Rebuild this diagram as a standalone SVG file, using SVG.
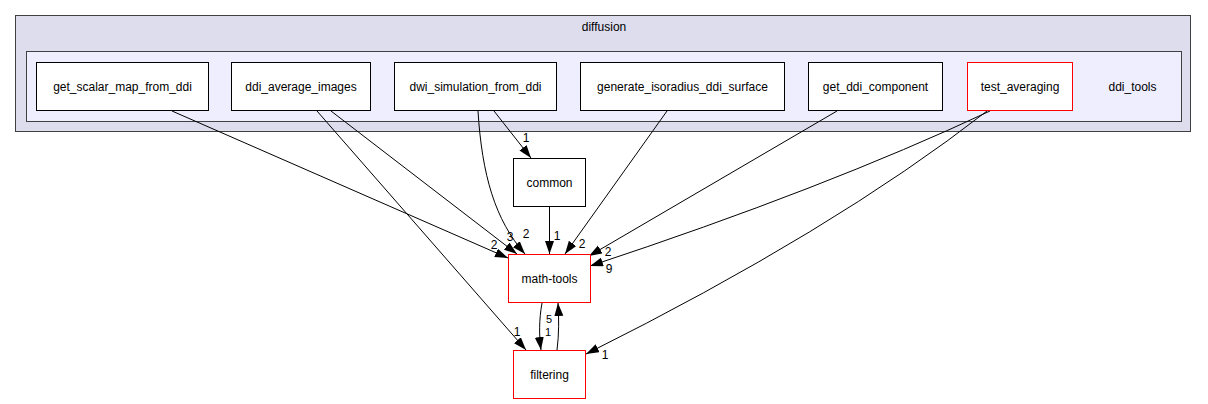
<svg xmlns="http://www.w3.org/2000/svg" width="1208" height="404" viewBox="0 0 1208 404">
<style>
text{font-family:"Liberation Sans",Arial,sans-serif;fill:#000}
.lbl{font-size:12px;text-anchor:middle}
.el{font-size:12px;text-anchor:middle}
.sm{font-size:11px}
.node{fill:#fff;stroke:#000;stroke-width:1}
.red{fill:#fff;stroke:#ff0000;stroke-width:1}
.edge{fill:none;stroke:#000;stroke-width:1;marker-end:url(#ah)}
</style>
<defs>
<marker id="ah" markerUnits="userSpaceOnUse" markerWidth="15" markerHeight="11" refX="13" refY="4.5" orient="auto">
<path d="M0,0 L13,4.5 L0,9 Z" fill="#000"/>
</marker>
</defs>
<rect width="1208" height="404" fill="#fff"/>
<g id="cluster-diffusion">
<rect x="15.5" y="15.5" width="1175" height="116" fill="#ddddee" stroke="#404040"/>
<text class="lbl" x="604" y="31">diffusion</text>
</g>
<g id="cluster-ddi_tools">
<rect x="26.5" y="51.5" width="1155" height="70" fill="#eeeeff" stroke="#404040"/>
<text class="lbl" x="1132.5" y="91">ddi_tools</text>
</g>
<g id="connectors">
<path class="edge" d="M172,111 L508,258"/>
<path class="edge" d="M317,111 L526,350"/>
<path class="edge" d="M331,111 L517,254"/>
<path class="edge" d="M478,111 C482,175 495,220 525,254"/>
<path class="edge" d="M494,111 L531,158"/>
<path class="edge" d="M549.5,207 L549.5,254"/>
<path class="edge" d="M667,111 L565,254"/>
<path class="edge" d="M837,111 L589,256"/>
<path class="edge" d="M990,111 Q826,188 590,266"/>
<path class="edge" d="M987,111 Q833,231 586,354"/>
<path class="edge" d="M542,303 C539,320 539,335 541,350"/>
<path class="edge" d="M557,350 C559,335 559,318 558,303"/>
<text class="el" x="494" y="249">2</text>
<text class="el" x="517" y="336">1</text>
<text class="el" x="510" y="241">3</text>
<text class="el" x="526" y="238">2</text>
<text class="el" x="526" y="142">1</text>
<text class="el" x="557" y="240">1</text>
<text class="el" x="582" y="248">2</text>
<text class="el" x="608" y="256">2</text>
<text class="el" x="609" y="273">9</text>
<text class="el" x="605" y="359">1</text>
<text class="el sm" x="549" y="323">5</text>
<text class="el sm" x="548" y="336">1</text>
</g>
<g id="node-get_scalar_map_from_ddi">
<rect class="node" x="36.5" y="62.5" width="172" height="48"/>
<text class="lbl" x="122.5" y="91">get_scalar_map_from_ddi</text>
</g>
<g id="node-ddi_average_images">
<rect class="node" x="231.5" y="62.5" width="139" height="48"/>
<text class="lbl" x="301" y="91">ddi_average_images</text>
</g>
<g id="node-dwi_simulation_from_ddi">
<rect class="node" x="394.5" y="62.5" width="162" height="48"/>
<text class="lbl" x="475.5" y="91">dwi_simulation_from_ddi</text>
</g>
<g id="node-generate_isoradius_ddi_surface">
<rect class="node" x="580.5" y="62.5" width="204" height="48"/>
<text class="lbl" x="682.5" y="91">generate_isoradius_ddi_surface</text>
</g>
<g id="node-get_ddi_component">
<rect class="node" x="808.5" y="62.5" width="134" height="48"/>
<text class="lbl" x="875.5" y="91">get_ddi_component</text>
</g>
<g id="node-test_averaging">
<rect class="red" x="967.5" y="62.5" width="105" height="48"/>
<text class="lbl" x="1020" y="91">test_averaging</text>
</g>
<g id="node-common">
<rect class="node" x="513.5" y="158.5" width="72" height="48"/>
<text class="lbl" x="549.5" y="187">common</text>
</g>
<g id="node-math-tools">
<rect class="red" x="508.5" y="254.5" width="82" height="48"/>
<text class="lbl" x="549.5" y="283">math-tools</text>
</g>
<g id="node-filtering">
<rect class="red" x="513.5" y="350.5" width="72" height="48"/>
<text class="lbl" x="549.5" y="379">filtering</text>
</g>
</svg>
